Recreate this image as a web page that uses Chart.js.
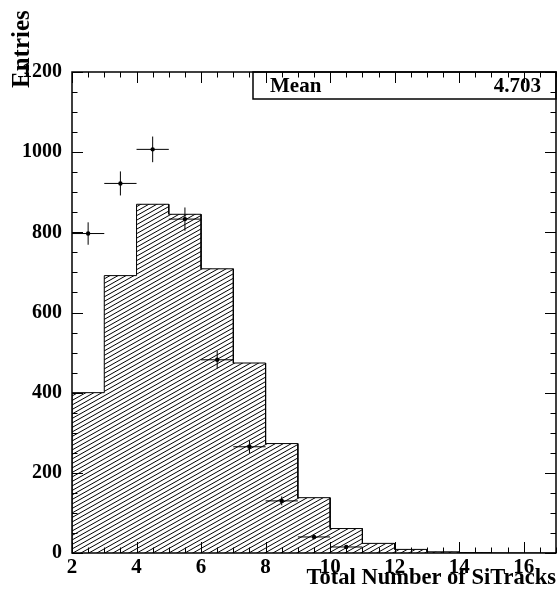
<!DOCTYPE html>
<html>
<head>
<meta charset="utf-8">
<title>Total Number of SiTracks</title>
<script src="https://cdn.jsdelivr.net/npm/chart.js@4.4.1/dist/chart.umd.min.js"></script>
<style>
  html, body { margin: 0; padding: 0; background: #fff; }
  canvas { display: block; }
</style>
</head>
<body>
<canvas id="chart" width="557" height="596"></canvas>
<script>
// ========== Data ==========

// simulated histogram: bin edges (width 1) and entries per bin
const binEdges = [2, 3, 4, 5, 6, 7, 8, 9, 10, 11, 12, 13, 14, 15, 16, 17];
const simCounts = [400, 692, 870, 845, 709, 474, 273, 138, 61, 24, 9, 3, 1, 0, 0];

// measured points at bin centres, with errors
const dataX = [2.5, 3.5, 4.5, 5.5, 6.5, 7.5, 8.5, 9.5, 10.5];
const dataY = [797, 922, 1007, 833, 482, 265, 130, 40, 15];
const dataYErr = [28, 30, 32, 29, 22, 16, 11, 6, 4];
const dataXErr = [0.5, 0.5, 0.5, 0.5, 0.5, 0.5, 0.5, 0.5, 0.5];

const xTicks = [2, 4, 6, 8, 10, 12, 14, 16];
const yTicks = [0, 200, 400, 600, 800, 1000, 1200];
const xMinorStep = 0.5;
const yMinorStep = 50;

const xTitle = 'Total Number of SiTracks';
const yTitle = 'Entries';
const statLabel = 'Mean';
const statValue = '4.703';

const FONT = '"Liberation Serif", "Times New Roman", serif';

// ========== Helpers ==========

function makeHatch() {
  // two "/" lines per tile, 4.5px apart vertically
  const w = 16, h = 9;
  const c = document.createElement('canvas');
  c.width = w;
  c.height = h;
  const g = c.getContext('2d');
  g.strokeStyle = '#000';
  g.lineWidth = 1;
  g.beginPath();
  for (let k = -2; k <= 2; k++) {
    const dy = k * h / 2;
    g.moveTo(0, h + dy);
    g.lineTo(w, dy);
  }
  g.stroke();
  return g.createPattern(c, 'repeat');
}

// outline of the histogram as corner points
function histOutline() {
  const pts = [{ x: binEdges[0], y: 0 }];
  simCounts.forEach((n, i) => {
    pts.push({ x: binEdges[i], y: n });
    pts.push({ x: binEdges[i + 1], y: n });
  });
  pts.push({ x: binEdges[binEdges.length - 1], y: 0 });
  return pts;
}

function tickRange(min, max, step) {
  const out = [];
  for (let v = min; v <= max + 1e-9; v += step) out.push(v);
  return out;
}

// ========== Plugins ==========

const errorBars = {
  id: 'errorBars',
  afterDatasetsDraw(chart) {
    const { ctx, scales: { x, y }, chartArea: a } = chart;
    ctx.save();
    ctx.strokeStyle = '#000';
    ctx.lineWidth = 1;
    ctx.beginPath();
    dataX.forEach((vx, i) => {
      const px = x.getPixelForValue(vx);
      const py = y.getPixelForValue(dataY[i]);
      ctx.moveTo(x.getPixelForValue(vx - dataXErr[i]), py);
      ctx.lineTo(x.getPixelForValue(vx + dataXErr[i]), py);
      ctx.moveTo(px, y.getPixelForValue(dataY[i] - dataYErr[i]));
      ctx.lineTo(px, y.getPixelForValue(dataY[i] + dataYErr[i]));
    });
    ctx.stroke();

    // stats box, top right
    const bx = 253, by = a.top, bw = a.right - bx, bh = 27;
    ctx.fillStyle = '#fff';
    ctx.fillRect(bx, by, bw, bh);
    ctx.lineWidth = 1.5;
    ctx.strokeRect(bx, by, bw, bh);
    ctx.fillStyle = '#000';
    ctx.font = 'bold 21px ' + FONT;
    ctx.textBaseline = 'alphabetic';
    ctx.textAlign = 'left';
    ctx.fillText(statLabel, bx + 17, by + 20);
    ctx.textAlign = 'right';
    ctx.fillText(statValue, a.right - 15, by + 20);
    ctx.restore();
  }
};

const rootFrame = {
  id: 'rootFrame',
  afterDraw(chart) {
    const { ctx, chartArea: a, scales: { x, y } } = chart;
    ctx.save();
    ctx.strokeStyle = '#000';
    ctx.lineWidth = 1;
    ctx.beginPath();

    tickRange(x.min, x.max, xMinorStep).forEach(v => {
      const len = xTicks.includes(v) ? 11 : 5.5;
      const px = Math.round(x.getPixelForValue(v)) + 0.5;
      ctx.moveTo(px, a.bottom);
      ctx.lineTo(px, a.bottom - len);
      ctx.moveTo(px, a.top);
      ctx.lineTo(px, a.top + len);
    });
    tickRange(y.min, y.max, yMinorStep).forEach(v => {
      const len = yTicks.includes(v) ? 11 : 5.5;
      const py = Math.round(y.getPixelForValue(v)) + 0.5;
      ctx.moveTo(a.left, py);
      ctx.lineTo(a.left + len, py);
      ctx.moveTo(a.right, py);
      ctx.lineTo(a.right - len, py);
    });
    ctx.stroke();

    ctx.lineWidth = 1.5;
    ctx.strokeRect(a.left, a.top, a.right - a.left, a.bottom - a.top);

    // axis titles
    ctx.fillStyle = '#000';
    ctx.font = 'bold 22.5px ' + FONT;
    ctx.textAlign = 'right';
    ctx.textBaseline = 'alphabetic';
    ctx.fillText(xTitle, a.right, 584);

    ctx.translate(23, 88);
    ctx.rotate(-Math.PI / 2);
    ctx.font = 'bold 25px ' + FONT;
    ctx.textAlign = 'left';
    ctx.textBaseline = 'middle';
    ctx.fillText(yTitle, 0, 0);
    ctx.restore();
  }
};

// ========== Chart ==========

const ctx = document.getElementById('chart').getContext('2d');

new Chart(ctx, {
  type: 'scatter',
  data: {
    datasets: [{
      label: 'Data',
      data: dataX.map((vx, i) => ({ x: vx, y: dataY[i] })),
      pointRadius: 2.2,
      pointStyle: 'circle',
      backgroundColor: '#000',
      borderColor: '#000',
      borderWidth: 0,
    }, {
      label: 'Simulation',
      type: 'line',
      data: histOutline(),
      borderColor: '#000',
      borderWidth: 1,
      backgroundColor: makeHatch(),
      fill: 'origin',
      tension: 0,
      pointRadius: 0,
    }],
  },
  options: {
    responsive: false,
    animation: false,
    devicePixelRatio: 1,
    layout: { autoPadding: false, padding: { top: 72, right: 1, left: 0, bottom: 0 } },
    scales: {
      x: {
        type: 'linear',
        min: 2,
        max: 17,
        afterBuildTicks: scale => { scale.ticks = xTicks.map(v => ({ value: v })); },
        afterFit: scale => {
          scale.height = 43;
          scale.paddingLeft = 0;
          scale.paddingRight = 0;
        },
        grid: { display: false, drawTicks: false },
        border: { display: false },
        ticks: {
          padding: 2,
          color: '#000',
          font: { family: FONT, size: 21, weight: 'bold' },
          callback: v => String(v),
        },
      },
      y: {
        min: 0,
        max: 1200,
        afterBuildTicks: scale => { scale.ticks = yTicks.map(v => ({ value: v })); },
        afterFit: scale => { scale.width = 72; },
        grid: { display: false, drawTicks: false },
        border: { display: false },
        ticks: {
          padding: 10,
          color: '#000',
          font: { family: FONT, size: 20, weight: 'bold' },
          callback: v => String(v),
        },
      },
    },
    plugins: {
      legend: { display: false },
      tooltip: { enabled: false },
    },
  },
  plugins: [errorBars, rootFrame],
});
</script>
</body>
</html>
